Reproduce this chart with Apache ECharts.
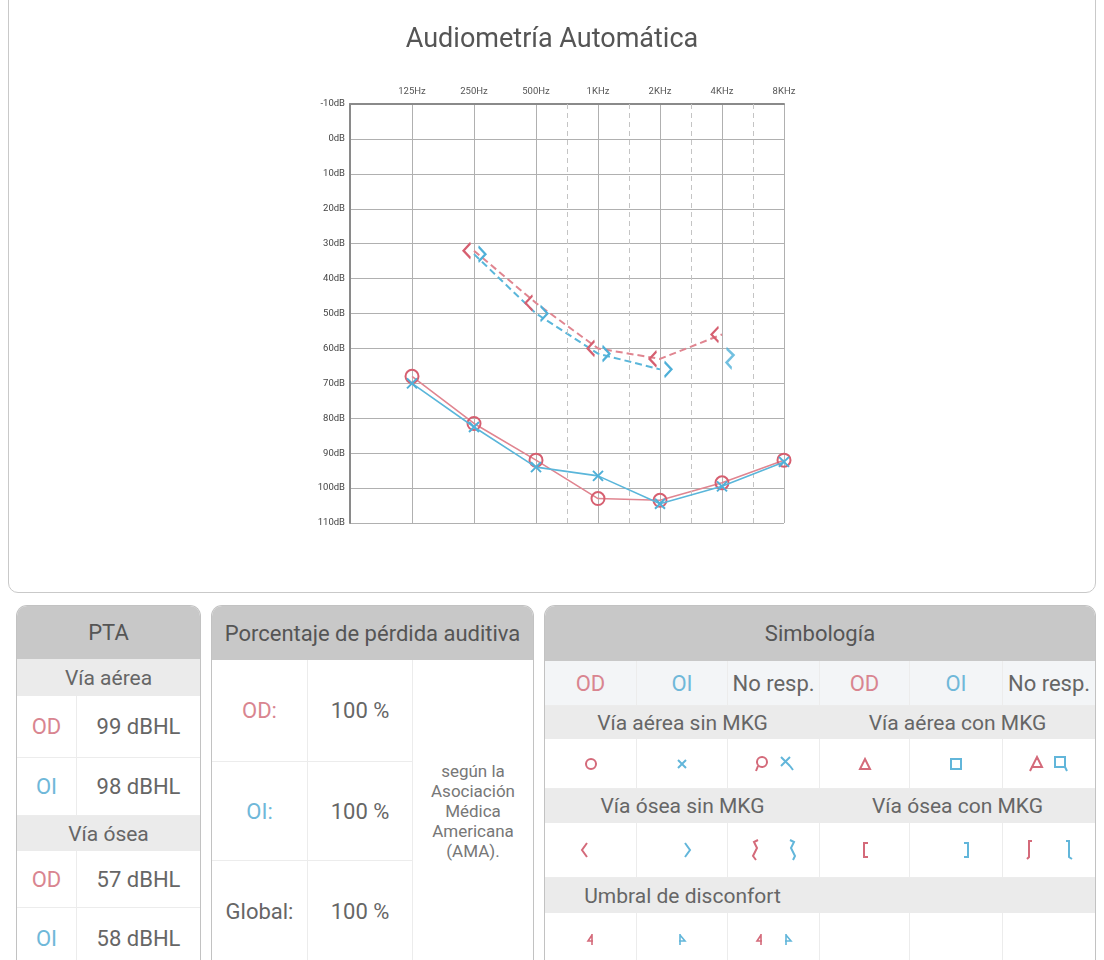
<!DOCTYPE html>
<html>
<head>
<meta charset="utf-8">
<script src="https://cdn.jsdelivr.net/npm/echarts/dist/echarts.min.js"></script>
<style>
  html, body { margin:0; padding:0; background:#fff; }
  body { width:1104px; height:960px; overflow:hidden; position:relative; font-family: Roboto, "Noto Sans", sans-serif; color:#666; }
  #topcard { position:absolute; left:8px; top:-14px; width:1088px; height:607px; border:1px solid #c9c9c9; border-radius:10px; box-sizing:border-box; background:#fff; }
  #chart { position:absolute; left:0; top:0; width:1104px; height:600px; }
  .card { position:absolute; top:605px; height:380px; border:1px solid #c2c2c2; border-bottom:none; border-radius:11px 11px 0 0; overflow:hidden; background:#fff; box-sizing:border-box; }
  .hdr { background:#c8c8c8; color:#555; font-size:22px; text-align:center; white-space:nowrap; display:flex; align-items:center; justify-content:center; }
  .band { background:#ebebeb; color:#666; font-size:21px; display:flex; align-items:center; justify-content:center; white-space:nowrap; }
  .row { display:flex; border-bottom:1px solid #ececec; box-sizing:border-box; }
  .cell { display:flex; align-items:center; justify-content:center; font-size:22px; color:#666; box-sizing:border-box; white-space:nowrap; }
  .br { border-right:1px solid #ececec; }
  .od { color:#d98590; }
  .oi { color:#6fb8d9; }
</style>
</head>
<body>
<div id="topcard"></div>
<div id="chart"></div>

<!-- PTA -->
<div class="card" style="left:16px;width:185px;">
  <div class="hdr" style="height:53px;">PTA</div>
  <div class="band" style="height:37px;">Vía aérea</div>
  <div class="row" style="height:62px;"><div class="cell br od" style="width:60px;">OD</div><div class="cell" style="flex:1;">99 dBHL</div></div>
  <div class="row" style="height:58px;"><div class="cell br oi" style="width:60px;">OI</div><div class="cell" style="flex:1;">98 dBHL</div></div>
  <div class="band" style="height:35px;">Vía ósea</div>
  <div class="row" style="height:57px;"><div class="cell br od" style="width:60px;">OD</div><div class="cell" style="flex:1;">57 dBHL</div></div>
  <div class="row" style="height:60px;border-bottom:none;"><div class="cell br oi" style="width:60px;">OI</div><div class="cell" style="flex:1;">58 dBHL</div></div>
</div>

<!-- Porcentaje -->
<div class="card" style="left:211px;width:323px;">
  <div class="hdr" style="height:54px;">Porcentaje de pérdida auditiva</div>
  <div style="display:flex;">
    <div style="width:201px;">
      <div class="row" style="height:102px;"><div class="cell br od" style="width:96px;">OD:</div><div class="cell br" style="flex:1;">100 %</div></div>
      <div class="row" style="height:99px;"><div class="cell br oi" style="width:96px;">OI:</div><div class="cell br" style="flex:1;">100 %</div></div>
      <div class="row" style="height:100px;border-bottom:none;"><div class="cell br" style="width:96px;">Global:</div><div class="cell br" style="flex:1;">100 %</div></div>
    </div>
    <div style="flex:1;display:flex;align-items:center;justify-content:center;height:301px;">
      <div style="text-align:center;font-size:17px;line-height:20px;color:#777;">según la<br>Asociación<br>Médica<br>Americana<br>(AMA).</div>
    </div>
  </div>
</div>

<!-- Simbología -->
<div class="card" style="left:544px;width:552px;">
  <div class="hdr" style="height:55px;">Simbología</div>
  <div class="row" style="height:45px;background:#f3f5f7;">
    <div class="cell br od" style="width:92px;">OD</div><div class="cell br oi" style="width:91px;">OI</div><div class="cell br" style="width:92px;">No resp.</div>
    <div class="cell br od" style="width:90px;">OD</div><div class="cell br oi" style="width:93px;">OI</div><div class="cell" style="flex:1;">No resp.</div>
  </div>
  <div style="display:flex;height:33px;">
    <div class="band" style="width:275px;">Vía aérea sin MKG</div><div class="band" style="flex:1;">Vía aérea con MKG</div>
  </div>
  <div class="row" style="height:50px;">
    <div class="cell br" style="width:92px;"><svg width="14" height="14"><circle cx="7" cy="7" r="5" fill="none" stroke="#d46a7a" stroke-width="2"/></svg></div>
    <div class="cell br" style="width:91px;"><svg width="14" height="14"><path d="M3,3L11,11M11,3L3,11" stroke="#62b6da" stroke-width="2" fill="none"/></svg></div>
    <div class="cell br" style="width:92px;gap:10px;"><svg width="16" height="18"><circle cx="9" cy="7" r="5" fill="none" stroke="#d46a7a" stroke-width="2"/><path d="M5,11L3,16" stroke="#d46a7a" stroke-width="2"/></svg><svg width="16" height="18"><path d="M2,2L11,11M11,2L2,11M11,11L14,15" stroke="#62b6da" stroke-width="2" fill="none"/></svg></div>
    <div class="cell br" style="width:90px;"><svg width="14" height="14"><path d="M7,2L12,12L2,12Z" fill="none" stroke="#d46a7a" stroke-width="2"/></svg></div>
    <div class="cell br" style="width:93px;"><svg width="14" height="14"><rect x="2" y="2" width="10" height="10" fill="none" stroke="#62b6da" stroke-width="2"/></svg></div>
    <div class="cell" style="flex:1;gap:6px;"><svg width="18" height="18"><path d="M9,2L14,12L4,12ZM4,12L2,16" fill="none" stroke="#d46a7a" stroke-width="2"/></svg><svg width="18" height="18"><path d="M3,2H13V12H3ZM13,12L15,16" fill="none" stroke="#62b6da" stroke-width="2"/></svg></div>
  </div>
  <div style="display:flex;height:34px;">
    <div class="band" style="width:275px;">Vía ósea sin MKG</div><div class="band" style="flex:1;">Vía ósea con MKG</div>
  </div>
  <div class="row" style="height:55px;">
    <div class="cell br" style="width:92px;justify-content:flex-start;padding-left:34px;"><svg width="10" height="20"><path d="M8,3L3,10L8,17" fill="none" stroke="#d46a7a" stroke-width="2"/></svg></div>
    <div class="cell br" style="width:91px;justify-content:flex-end;padding-right:34px;"><svg width="10" height="20"><path d="M2,3L7,10L2,17" fill="none" stroke="#62b6da" stroke-width="2"/></svg></div>
    <div class="cell br" style="width:92px;gap:28px;"><svg width="10" height="24"><path d="M8,2L4,4L7,10L3,18L6,22" fill="none" stroke="#d46a7a" stroke-width="2"/></svg><svg width="10" height="24"><path d="M2,2L6,4L3,10L7,18L5,22" fill="none" stroke="#62b6da" stroke-width="2"/></svg></div>
    <div class="cell br" style="width:90px;justify-content:flex-start;padding-left:40px;"><svg width="10" height="20"><path d="M8,3H4V17H8" fill="none" stroke="#d46a7a" stroke-width="2"/></svg></div>
    <div class="cell br" style="width:93px;justify-content:flex-end;padding-right:30px;"><svg width="10" height="20"><path d="M2,3H6V17H2" fill="none" stroke="#62b6da" stroke-width="2"/></svg></div>
    <div class="cell" style="flex:1;gap:30px;"><svg width="10" height="24"><path d="M8,3H5V19L3,21" fill="none" stroke="#d46a7a" stroke-width="2"/></svg><svg width="10" height="24"><path d="M2,3H5V19L8,21" fill="none" stroke="#62b6da" stroke-width="2"/></svg></div>
  </div>
  <div style="display:flex;height:35px;">
    <div class="band" style="width:275px;">Umbral de disconfort</div><div class="band" style="flex:1;"></div>
  </div>
  <div class="row" style="height:52px;border-bottom:none;">
    <div class="cell br" style="width:92px;"><svg width="10" height="14"><path d="M6,2V13M6,3L2,9H7" fill="none" stroke="#d46a7a" stroke-width="1.6"/></svg></div>
    <div class="cell br" style="width:91px;"><svg width="10" height="14"><path d="M3,2V13M3,3L8,9H2" fill="none" stroke="#62b6da" stroke-width="1.6"/></svg></div>
    <div class="cell br" style="width:92px;gap:18px;"><svg width="10" height="14"><path d="M6,2V13M6,3L2,9H7" fill="none" stroke="#d46a7a" stroke-width="1.6"/></svg><svg width="10" height="14"><path d="M3,2V13M3,3L8,9H2" fill="none" stroke="#62b6da" stroke-width="1.6"/></svg></div>
    <div class="cell br" style="width:90px;"></div>
    <div class="cell br" style="width:93px;"></div>
    <div class="cell" style="flex:1;"></div>
  </div>
</div>

<script>
// Frequency tick labels (octave positions 1..7 on the axis; 0 is the left edge)
const freqLabels = ['125Hz', '250Hz', '500Hz', '1KHz', '2KHz', '4KHz', '8KHz'];
// Intermediate (half-octave) frequencies drawn as dashed lines
const halfOctaveFreqs = [750, 1500, 3000, 6000];

// Air conduction thresholds (dB HL) per frequency in freqLabels order
const odAir = [68, 81.5, 92, 103, 103.5, 98.5, 92];
const oiAir = [70, 82.5, 94, 96.5, 104.5, 99.5, 92.5];
// Bone conduction thresholds (dB HL); null = not measured
const odBone = [null, 32, 47, 60, 63, 56, null];
const oiBone = [null, 33, 50, 61.5, 66, 62, null];
// Bone conduction "no response" flags
const odBoneNoResp = [false, false, false, false, false, false, false];
const oiBoneNoResp = [false, false, false, false, false, true, false];

const RED = '#d65f70', RED_LINE = '#e08590';
const BLUE = '#4fb0d8', BLUE_LINE = '#5ab6da';

const pos = i => i + 1;
function pairs(vals, keep) {
  const out = [];
  vals.forEach((v, i) => { if (v !== null && keep(i)) out.push([pos(i), v]); });
  return out;
}
const halfPos = halfOctaveFreqs.map(f => Math.floor(Math.log2(f / 125)) + 1.5);

const SYM_LT = 'path://M10,0L0,10L10,20';
const SYM_GT = 'path://M0,0L10,10L0,20';
const SYM_GT_NR = 'path://M0,0L8,8L0,17L6,24';
const SYM_LT_NR = 'path://M8,0L0,8L8,17L2,24';
const SYM_X = 'path://M0,0L10,10M10,0L0,10';

const chart = echarts.init(document.getElementById('chart'), null, { renderer: 'canvas' });
chart.setOption({
  backgroundColor: 'transparent',
  animation: false,
  title: {
    text: 'Audiometría Automática',
    left: 'center',
    top: 22,
    textStyle: { fontFamily: 'Roboto', fontSize: 27, fontWeight: 'normal', color: '#555' }
  },
  grid: { left: 350, top: 104, width: 434, height: 419 },
  xAxis: {
    type: 'value', min: 0, max: 7, interval: 1, position: 'top',
    axisLine: { show: true, onZero: false, lineStyle: { color: '#8a8a8a', width: 2 } },
    axisTick: { show: false },
    axisLabel: {
      margin: 7, fontSize: 9.5, color: '#555', fontFamily: 'Roboto',
      formatter: v => freqLabels[v - 1] || ''
    },
    splitLine: { show: true, lineStyle: { color: '#b0b0b0', width: 1 } }
  },
  yAxis: {
    type: 'value', inverse: true, min: -10, max: 110, interval: 10,
    axisLine: { show: true, onZero: false, lineStyle: { color: '#8a8a8a', width: 2 } },
    axisTick: { show: false },
    axisLabel: { margin: 5, fontSize: 9.5, color: '#444', fontFamily: 'Roboto', formatter: '{value}dB' },
    splitLine: { show: true, lineStyle: { color: '#b0b0b0', width: 1 } }
  },
  series: [
    {
      type: 'line', data: [], silent: true, symbol: 'none',
      markLine: {
        silent: true, symbol: 'none', label: { show: false },
        lineStyle: { type: [5, 4], color: '#c4c4c4', width: 1 },
        data: halfPos.map(x => ({ xAxis: x }))
      }
    },
    {
      name: 'OD ósea', type: 'line', z: 3,
      data: pairs(odBone, i => !odBoneNoResp[i]),
      lineStyle: { color: RED_LINE, width: 2, type: [7, 4] },
      symbol: SYM_LT, symbolSize: [7, 15], symbolOffset: [-7, 0],
      itemStyle: { color: 'rgba(0,0,0,0)', borderColor: RED, borderWidth: 2 }
    },
    {
      name: 'OI ósea', type: 'line', z: 3,
      data: pairs(oiBone, i => !oiBoneNoResp[i]),
      lineStyle: { color: BLUE_LINE, width: 2, type: [7, 4] },
      symbol: SYM_GT, symbolSize: [7, 15], symbolOffset: [8, 0],
      itemStyle: { color: 'rgba(0,0,0,0)', borderColor: BLUE, borderWidth: 2 }
    },
    {
      name: 'OI ósea no resp', type: 'scatter', z: 3,
      data: pairs(oiBone, i => oiBoneNoResp[i]),
      symbol: SYM_GT_NR, symbolSize: [7, 20], symbolOffset: [8, 3],
      itemStyle: { color: 'rgba(0,0,0,0)', borderColor: BLUE, borderWidth: 2 }
    },
    {
      name: 'OD ósea no resp', type: 'scatter', z: 3,
      data: pairs(odBone, i => odBoneNoResp[i]),
      symbol: SYM_LT_NR, symbolSize: [7, 20], symbolOffset: [-8, 3],
      itemStyle: { color: 'rgba(0,0,0,0)', borderColor: RED, borderWidth: 2 }
    },
    {
      name: 'OD aérea', type: 'line', z: 4,
      data: pairs(odAir, () => true),
      lineStyle: { color: RED_LINE, width: 1.6 },
      symbol: 'circle', symbolSize: 13,
      itemStyle: { color: 'rgba(255,255,255,0)', borderColor: RED, borderWidth: 2 }
    },
    {
      name: 'OI aérea', type: 'line', z: 5,
      data: pairs(oiAir, () => true),
      lineStyle: { color: BLUE_LINE, width: 1.6 },
      symbol: SYM_X, symbolSize: 10,
      itemStyle: { color: 'rgba(0,0,0,0)', borderColor: BLUE, borderWidth: 2 }
    }
  ]
});
</script>
</body>
</html>
